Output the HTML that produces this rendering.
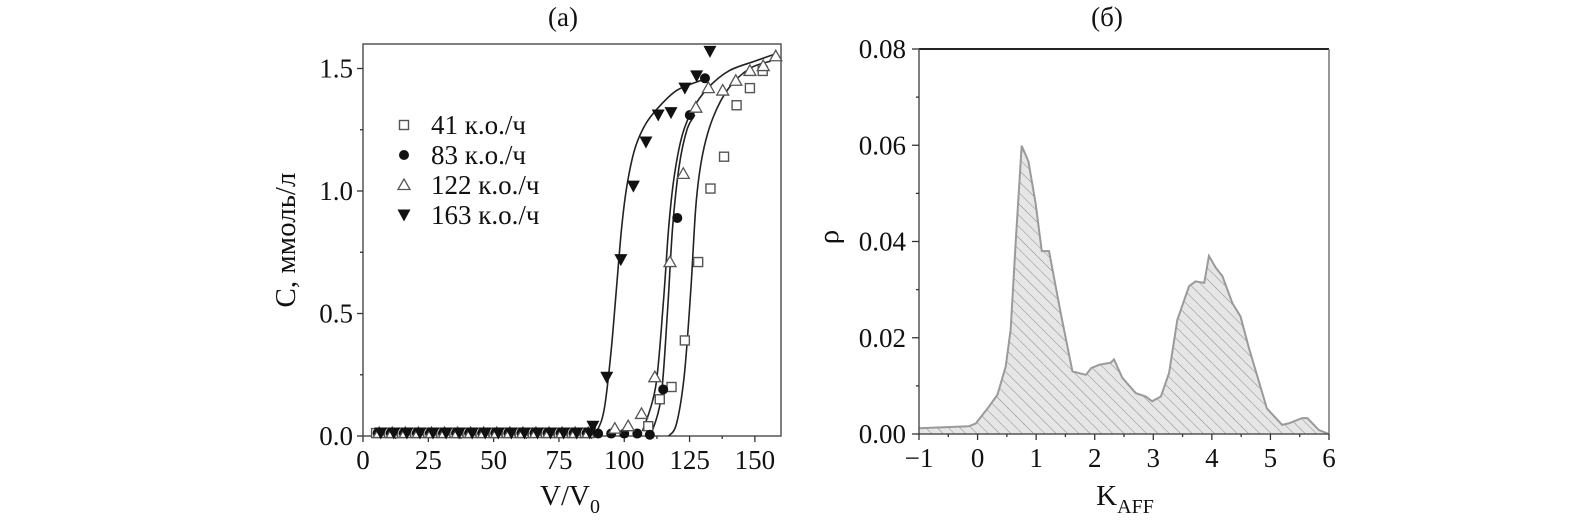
<!DOCTYPE html>
<html><head><meta charset="utf-8"><style>
body{margin:0;background:#fff;}
svg text{font-family:"Liberation Serif",serif;fill:#111;}
</style></head><body>
<svg id="s" width="1594" height="525" xmlns="http://www.w3.org/2000/svg">
<defs><pattern id="hatch" width="8" height="8" patternUnits="userSpaceOnUse" patternTransform="rotate(-45)">
<rect width="8" height="8" fill="#e6e6e6"/><line x1="0" y1="0" x2="0" y2="8" stroke="#8a8a8a" stroke-width="1"/></pattern></defs>
<g id="A"></g>
<g id="B"></g>
</svg>
<script>
// ---- Chart (a) data ----
const baseX = [5,10,15,20,25,30,35,40,45,50,55,60,65,70,75,80,85];
const s41X = [109.2,113.6,118.1,123.2,128.3,133,138.2,143,148.1,153];
const s41Y = [0.04,0.15,0.20,0.39,0.71,1.01,1.14,1.35,1.42,1.49];
const s83X = [90,95,100,105,109.8,114.9,120.3,125.1,130.9];
const s83Y = [0.01,0.01,0.01,0.01,0.005,0.19,0.89,1.31,1.46];
const s122X = [96.4,101.5,106.6,111.7,117.5,122.6,127.4,132.2,137.7,142.7,148.1,153.2,158];
const s122Y = [0.03,0.04,0.09,0.24,0.71,1.07,1.34,1.42,1.41,1.45,1.49,1.51,1.55];
const s163X = [88,93.3,98.7,103.5,108.3,113,117.9,123.2,127.7,132.8];
const s163Y = [0.04,0.24,0.72,1.02,1.20,1.31,1.32,1.42,1.47,1.57];
const c41X = [117,120,123,125.5,127.5,130,134,140,148,156];
const c41Y = [0,0.05,0.25,0.6,0.95,1.15,1.3,1.42,1.5,1.53];
const c83X = [110,114,116.5,118.5,121,124,127];
const c83Y = [0,0.15,0.5,0.85,1.1,1.25,1.31];
const c122X = [107,112,115,117,119,122,126,132,140,150,158];
const c122Y = [0.02,0.2,0.55,0.85,1.05,1.22,1.33,1.42,1.49,1.53,1.56];
const c163X = [87,90,92.5,95,97,99,101,104,108,113,120,129,132];
const c163Y = [0,0.03,0.12,0.35,0.6,0.85,1.02,1.17,1.27,1.34,1.41,1.45,1.46];
const aXTicks = [0,25,50,75,100,125,150];
const aYTicks = [0.0,0.5,1.0,1.5];
const legendLabels = ["41 к.о./ч","83 к.о./ч","122 к.о./ч","163 к.о./ч"];
// ---- Chart (b) data ----
const kX = [-1,-0.15,-0.03,0.195,0.34,0.48,0.565,0.65,0.753,0.867,0.99,1.096,1.22,1.42,1.62,1.85,1.94,2.08,2.27,2.33,2.47,2.70,2.87,2.98,3.13,3.27,3.41,3.61,3.72,3.87,3.95,4.07,4.18,4.35,4.49,4.63,4.94,5.2,5.31,5.54,5.63,5.83,6];
const rhoY = [0.0012,0.0016,0.0022,0.0057,0.0082,0.014,0.0217,0.0397,0.0599,0.0567,0.048,0.038,0.038,0.0251,0.013,0.0123,0.0137,0.0144,0.0148,0.0155,0.0117,0.0085,0.0078,0.0068,0.0078,0.0127,0.0237,0.0307,0.0317,0.0314,0.037,0.0345,0.0328,0.0272,0.0244,0.018,0.0053,0.0019,0.0022,0.0033,0.0033,0.0008,0];
const bXTicks = [-1,0,1,2,3,4,5,6];
const bYTicks = [0.00,0.02,0.04,0.06,0.08];

const NS="http://www.w3.org/2000/svg";
const FS=27;
function mk(p,tag,at){const e=document.createElementNS(NS,tag);for(const k in at)e.setAttribute(k,at[k]);p.appendChild(e);return e;}
function smooth(pts){let d=`M${pts[0][0]},${pts[0][1]}`;for(let i=0;i<pts.length-1;i++){const p0=pts[Math.max(0,i-1)],p1=pts[i],p2=pts[i+1],p3=pts[Math.min(pts.length-1,i+2)];d+=` C${p1[0]+(p2[0]-p0[0])/6},${p1[1]+(p2[1]-p0[1])/6} ${p2[0]-(p3[0]-p1[0])/6},${p2[1]-(p3[1]-p1[1])/6} ${p2[0]},${p2[1]}`;}return d;}

// Chart A
const A=document.getElementById('A');
const aL=363,aR=781,aT=44,aB=436;
const ax=v=>aL+(v-0)/(160)*(aR-aL), ay=v=>aB-(v/1.6)*(aB-aT);
let fr=mk(A,'rect',{x:aL,y:aT,width:aR-aL,height:aB-aT,fill:'none',stroke:'#555','stroke-width':1.5});


for(let v=0;v<=160;v+=12.5){const big=v%25===0;mk(A,'line',{x1:ax(v),x2:ax(v),y1:aB,y2:aB+(big?6:3),stroke:'#333','stroke-width':1.3});}
for(let v=0;v<=1.6;v+=0.25){const big=Math.abs(v*2-Math.round(v*2))<1e-6;mk(A,'line',{x1:aL,x2:aL-(big?6:3),y1:ay(v),y2:ay(v),stroke:'#333','stroke-width':1.3});}
aXTicks.forEach(v=>{const t=mk(A,'text',{x:ax(v),y:aB+33,'text-anchor':'middle','font-size':FS});t.textContent=v;

});
aYTicks.forEach(v=>{const t=mk(A,'text',{x:aL-10,y:ay(v)+9,'text-anchor':'end','font-size':FS});t.textContent=v.toFixed(1);

});
let t=mk(A,'text',{x:563,y:26,'text-anchor':'middle','font-size':FS});t.textContent='(a)';


t=mk(A,'text',{x:0,y:0,'text-anchor':'middle','font-size':29,transform:'translate(295,240) rotate(-90)'});t.textContent='C, ммоль/л';


t=mk(A,'text',{x:570,y:505,'text-anchor':'middle','font-size':29});t.innerHTML='V/V<tspan font-size="20" dy="8">0</tspan>';


[[c41X,c41Y],[c83X,c83Y],[c122X,c122Y],[c163X,c163Y]].forEach((c,i)=>{const p=mk(A,'path',{d:smooth(c[0].map((x,j)=>[ax(x),ay(c[1][j])])),fill:'none',stroke:'#222','stroke-width':1.6});

});
function marker(g,type,x,y){
 if(type===0)return mk(g,'rect',{x:x-4.5,y:y-4.5,width:9,height:9,fill:'#fff',stroke:'#555','stroke-width':1.4});
 if(type===1)return mk(g,'circle',{cx:x,cy:y,r:5,fill:'#111'});
 if(type===2)return mk(g,'polygon',{points:`${x},${y-6} ${x-6},${y+4.5} ${x+6},${y+4.5}`,fill:'#fff',stroke:'#555','stroke-width':1.3});
 return mk(g,'polygon',{points:`${x-6.5},${y-5.5} ${x+6.5},${y-5.5} ${x},${y+6.5}`,fill:'#111'});
}
const series=[[s41X,s41Y],[s83X,s83Y],[s122X,s122Y],[s163X,s163Y]];
series.forEach((s,i)=>{
 const g=mk(A,'g',{});
 
 
 baseX.forEach(x=>{marker(g,i,ax(x+i*0.6),ay(0.012));});
 s[0].forEach((x,j)=>{marker(g,i,ax(x),ay(s[1][j]));});
});
legendLabels.forEach((l,i)=>{
 const y=125+i*30;
 const g=mk(A,'g',{});
 
 
 marker(g,i,404,y);
 const tt=mk(g,'text',{x:431,y:y+9,'font-size':FS});tt.textContent=l;
});

// Chart B
const B=document.getElementById('B');
const bL=919,bR=1329,bT=49,bB=434;
const bx=v=>bL+(v+1)/7*(bR-bL), by=v=>bB-(v/0.08)*(bB-bT);
const pts=kX.map((x,i)=>[bx(x),by(rhoY[i])]);
let area=mk(B,'path',{d:`M${bx(kX[0])},${bB} `+pts.map(p=>`L${p[0]},${p[1]}`).join(' ')+` L${bx(kX[kX.length-1])},${bB} Z`,fill:'url(#hatch)',stroke:'none'});


let ln=mk(B,'polyline',{points:pts.map(p=>p.join(',')).join(' '),fill:'none',stroke:'#9a9a9a','stroke-width':2});


mk(B,'line',{x1:bL,x2:bR,y1:bT,y2:bT,stroke:'#222','stroke-width':2});
mk(B,'line',{x1:bL,x2:bL,y1:bT,y2:bB,stroke:'#555','stroke-width':1.5});
mk(B,'line',{x1:bR,x2:bR,y1:bT,y2:bB,stroke:'#777','stroke-width':1.5});
mk(B,'line',{x1:bL,x2:bR,y1:bB,y2:bB,stroke:'#555','stroke-width':1.5});
for(let v=-1;v<=6.001;v+=0.5){const big=Math.abs(v-Math.round(v))<1e-6;mk(B,'line',{x1:bx(v),x2:bx(v),y1:bB,y2:bB+(big?6:3),stroke:'#333','stroke-width':1.3});}
for(let v=0;v<=0.0801;v+=0.01){const big=Math.round(v*100)%2===0;mk(B,'line',{x1:bL,x2:bL-(big?7:3),y1:by(v),y2:by(v),stroke:'#333','stroke-width':1.3});}
bXTicks.forEach(v=>{const tt=mk(B,'text',{x:bx(v),y:bB+33,'text-anchor':'middle','font-size':FS});tt.textContent=v<0?'\u2212'+Math.abs(v):v;

});
bYTicks.forEach(v=>{const tt=mk(B,'text',{x:bL-13,y:by(v)+9,'text-anchor':'end','font-size':FS});tt.textContent=v.toFixed(2);

});
t=mk(B,'text',{x:1107,y:26,'text-anchor':'middle','font-size':FS});t.textContent='(б)';


t=mk(B,'text',{x:0,y:0,'text-anchor':'middle','font-size':29,transform:'translate(838,237) rotate(-90)'});t.textContent='ρ';


t=mk(B,'text',{x:1125,y:505,'text-anchor':'middle','font-size':29});t.innerHTML='K<tspan font-size="20" dy="8">AFF</tspan>';


</script>
</body></html>
